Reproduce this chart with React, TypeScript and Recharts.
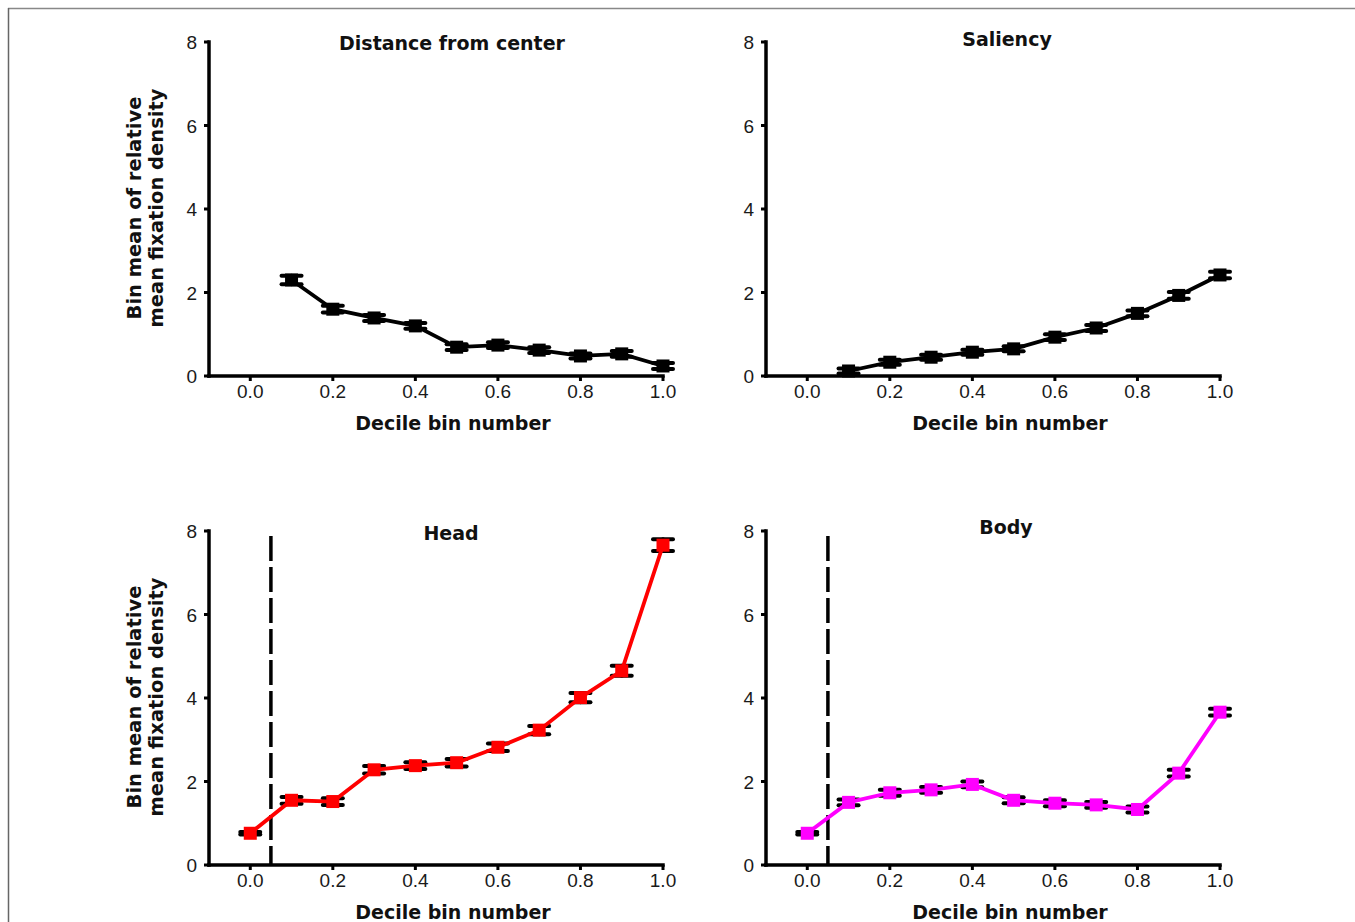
import React from 'react';
import { LineChart, Line, XAxis, YAxis, ErrorBar, ReferenceLine } from 'recharts';

// decile bins (x values)
const BINS = [0.0, 0.1, 0.2, 0.3, 0.4, 0.5, 0.6, 0.7, 0.8, 0.9, 1.0];
const X_TICKS = [0.0, 0.2, 0.4, 0.6, 0.8, 1.0];
const Y_TICKS = [0, 2, 4, 6, 8];

// bin means and error
const DIST_MEAN = [null, 2.3, 1.6, 1.39, 1.2, 0.69, 0.74, 0.62, 0.48, 0.53, 0.24];
const DIST_ERR = [null, 0.1, 0.08, 0.07, 0.07, 0.07, 0.07, 0.07, 0.06, 0.07, 0.07];

const SAL_MEAN = [null, 0.12, 0.33, 0.45, 0.57, 0.65, 0.93, 1.15, 1.5, 1.93, 2.42];
const SAL_ERR = [null, 0.06, 0.06, 0.06, 0.06, 0.06, 0.07, 0.07, 0.07, 0.08, 0.08];

const HEAD_MEAN = [0.76, 1.55, 1.52, 2.28, 2.38, 2.45, 2.82, 3.23, 4.01, 4.65, 7.66];
const HEAD_ERR = [0.03, 0.08, 0.08, 0.09, 0.08, 0.09, 0.09, 0.1, 0.11, 0.12, 0.14];

const BODY_MEAN = [0.76, 1.5, 1.73, 1.8, 1.93, 1.55, 1.48, 1.44, 1.33, 2.2, 3.66];
const BODY_ERR = [0.03, 0.07, 0.07, 0.07, 0.07, 0.07, 0.07, 0.07, 0.07, 0.08, 0.08];

const buildRows = (mean: (number | null)[], err: (number | null)[]) =>
  BINS.map((x, i) => ({ x, mean: mean[i], err: err[i] })).filter(r => r.mean !== null);

const PLOT_W = 454;
const PLOT_H = 334;
const Y_W = 60;
const X_H = 30;
const MARGIN = { top: 40, right: 40, bottom: 40, left: 60 };

const BOLD: React.CSSProperties = {
  fontFamily: '"DejaVu Sans", sans-serif',
  fontWeight: 'bold',
  fontSize: 19,
  fill: '#111',
};

const TICK_FONT: React.CSSProperties = {
  fontFamily: '"Liberation Sans", Arial, sans-serif',
  fontSize: 19,
  fill: '#1a1a1a',
};

const squareDot = (color: string) => (props: any) => {
  const { cx, cy, index } = props;
  if (cx == null || cy == null) return <g key={`n${index}`} />;
  return <rect key={`d${index}`} x={cx - 6.5} y={cy - 6.5} width={13} height={13} fill={color} />;
};

const XTick = (props: any) => (
  <text x={props.x} y={props.y} dy={14} textAnchor="middle" style={TICK_FONT}>
    {Number(props.payload.value).toFixed(1)}
  </text>
);

const YTick = (props: any) => (
  <text x={props.x} y={props.y} dy={7} textAnchor="end" style={TICK_FONT}>
    {props.payload.value}
  </text>
);

const YLabel = (props: any) => {
  const vb = props.viewBox || { x: MARGIN.left, y: MARGIN.top, width: Y_W, height: PLOT_H };
  const right = vb.x + vb.width;
  const cy = vb.y + vb.height / 2 - 1;
  const st = { ...BOLD, fontSize: 19.5 };
  return (
    <g>
      <text transform={`translate(${right - 68},${cy}) rotate(-90)`} textAnchor="middle" style={st}>
        Bin mean of relative
      </text>
      <text transform={`translate(${right - 46},${cy}) rotate(-90)`} textAnchor="middle" style={st}>
        mean fixation density
      </text>
    </g>
  );
};

const XLabel = (props: any) => {
  const vb = props.viewBox || { x: MARGIN.left + Y_W, y: MARGIN.top + PLOT_H, width: PLOT_W, height: X_H };
  return (
    <text x={vb.x + vb.width / 2 + 17} y={vb.y + 54} textAnchor="middle" style={BOLD}>
      Decile bin number
    </text>
  );
};

const PANELS = [
  { key: 'dist', left: 89, top: 2, title: 'Distance from center', titleDx: 16, titleDy: 8, rows: buildRows(DIST_MEAN, DIST_ERR), color: '#000', divider: false, yLabel: true },
  { key: 'sal', left: 646, top: 2, title: 'Saliency', titleDx: 14, titleDy: 4, rows: buildRows(SAL_MEAN, SAL_ERR), color: '#000', divider: false, yLabel: false },
  { key: 'head', left: 89, top: 491, title: 'Head', titleDx: 15, titleDy: 9, rows: buildRows(HEAD_MEAN, HEAD_ERR), color: '#ff0000', divider: true, yLabel: true },
  { key: 'body', left: 646, top: 491, title: 'Body', titleDx: 13, titleDy: 3, rows: buildRows(BODY_MEAN, BODY_ERR), color: '#ff00ff', divider: true, yLabel: false },
];

const axisLine = { stroke: '#000', strokeWidth: 3.5, strokeLinecap: 'square' as const };
const tickLine = { stroke: '#000', strokeWidth: 3 };

export default function App() {
  return (
    <div style={{ position: 'absolute', left: 0, top: 0, width: 1355, height: 922, overflow: 'hidden', background: '#fff' }}>
      {PANELS.map(p => (
        <div key={p.key} style={{ position: 'absolute', left: p.left, top: p.top }}>
          <LineChart
            width={MARGIN.left + Y_W + PLOT_W + MARGIN.right}
            height={MARGIN.top + PLOT_H + X_H + MARGIN.bottom}
            data={p.rows}
            margin={MARGIN}
          >
            <XAxis
              dataKey="x"
              type="number"
              domain={[-0.1, 1.0]}
              ticks={X_TICKS}
              interval={0}
              height={X_H}
              tickSize={5}
              tickMargin={3}
              tick={(tp: any) => <XTick {...tp} />}
              axisLine={axisLine}
              tickLine={tickLine}
              label={(lp: any) => <XLabel {...lp} />}
            />
            <YAxis
              type="number"
              domain={[0, 8]}
              ticks={Y_TICKS}
              interval={0}
              width={Y_W}
              tickSize={5}
              tickMargin={7}
              tick={(tp: any) => <YTick {...tp} />}
              axisLine={axisLine}
              tickLine={tickLine}
              label={p.yLabel ? (lp: any) => <YLabel {...lp} /> : undefined}
            />
            {p.divider && (
              <ReferenceLine
                segment={[{ x: 0.05, y: 7.88 }, { x: 0.05, y: 0 }]}
                stroke="#000"
                strokeWidth={3.5}
                strokeDasharray="25 6"
              />
            )}
            <Line
              type="linear"
              dataKey="mean"
              stroke={p.color}
              strokeWidth={3.8}
              dot={squareDot(p.color)}
              activeDot={false}
              isAnimationActive={false}
            >
              <ErrorBar
                dataKey="err"
                direction="y"
                width={10}
                strokeWidth={4}
                strokeLinecap="round"
                stroke="#000"
                isAnimationActive={false}
              />
            </Line>
          </LineChart>
        </div>
      ))}
      <svg width={1355} height={922} style={{ position: 'absolute', left: 0, top: 0, pointerEvents: 'none' }}>
        <line x1={8} y1={8.5} x2={1355} y2={8.5} stroke="#888" strokeWidth={1.5} />
        <line x1={8.5} y1={8} x2={8.5} y2={922} stroke="#666" strokeWidth={1.5} />
        {PANELS.map(p => (
          <text
            key={p.key}
            x={p.left + MARGIN.left + Y_W + PLOT_W / 2 + p.titleDx}
            y={p.top + MARGIN.top + p.titleDy}
            textAnchor="middle"
            style={BOLD}
          >
            {p.title}
          </text>
        ))}
      </svg>
    </div>
  );
}
